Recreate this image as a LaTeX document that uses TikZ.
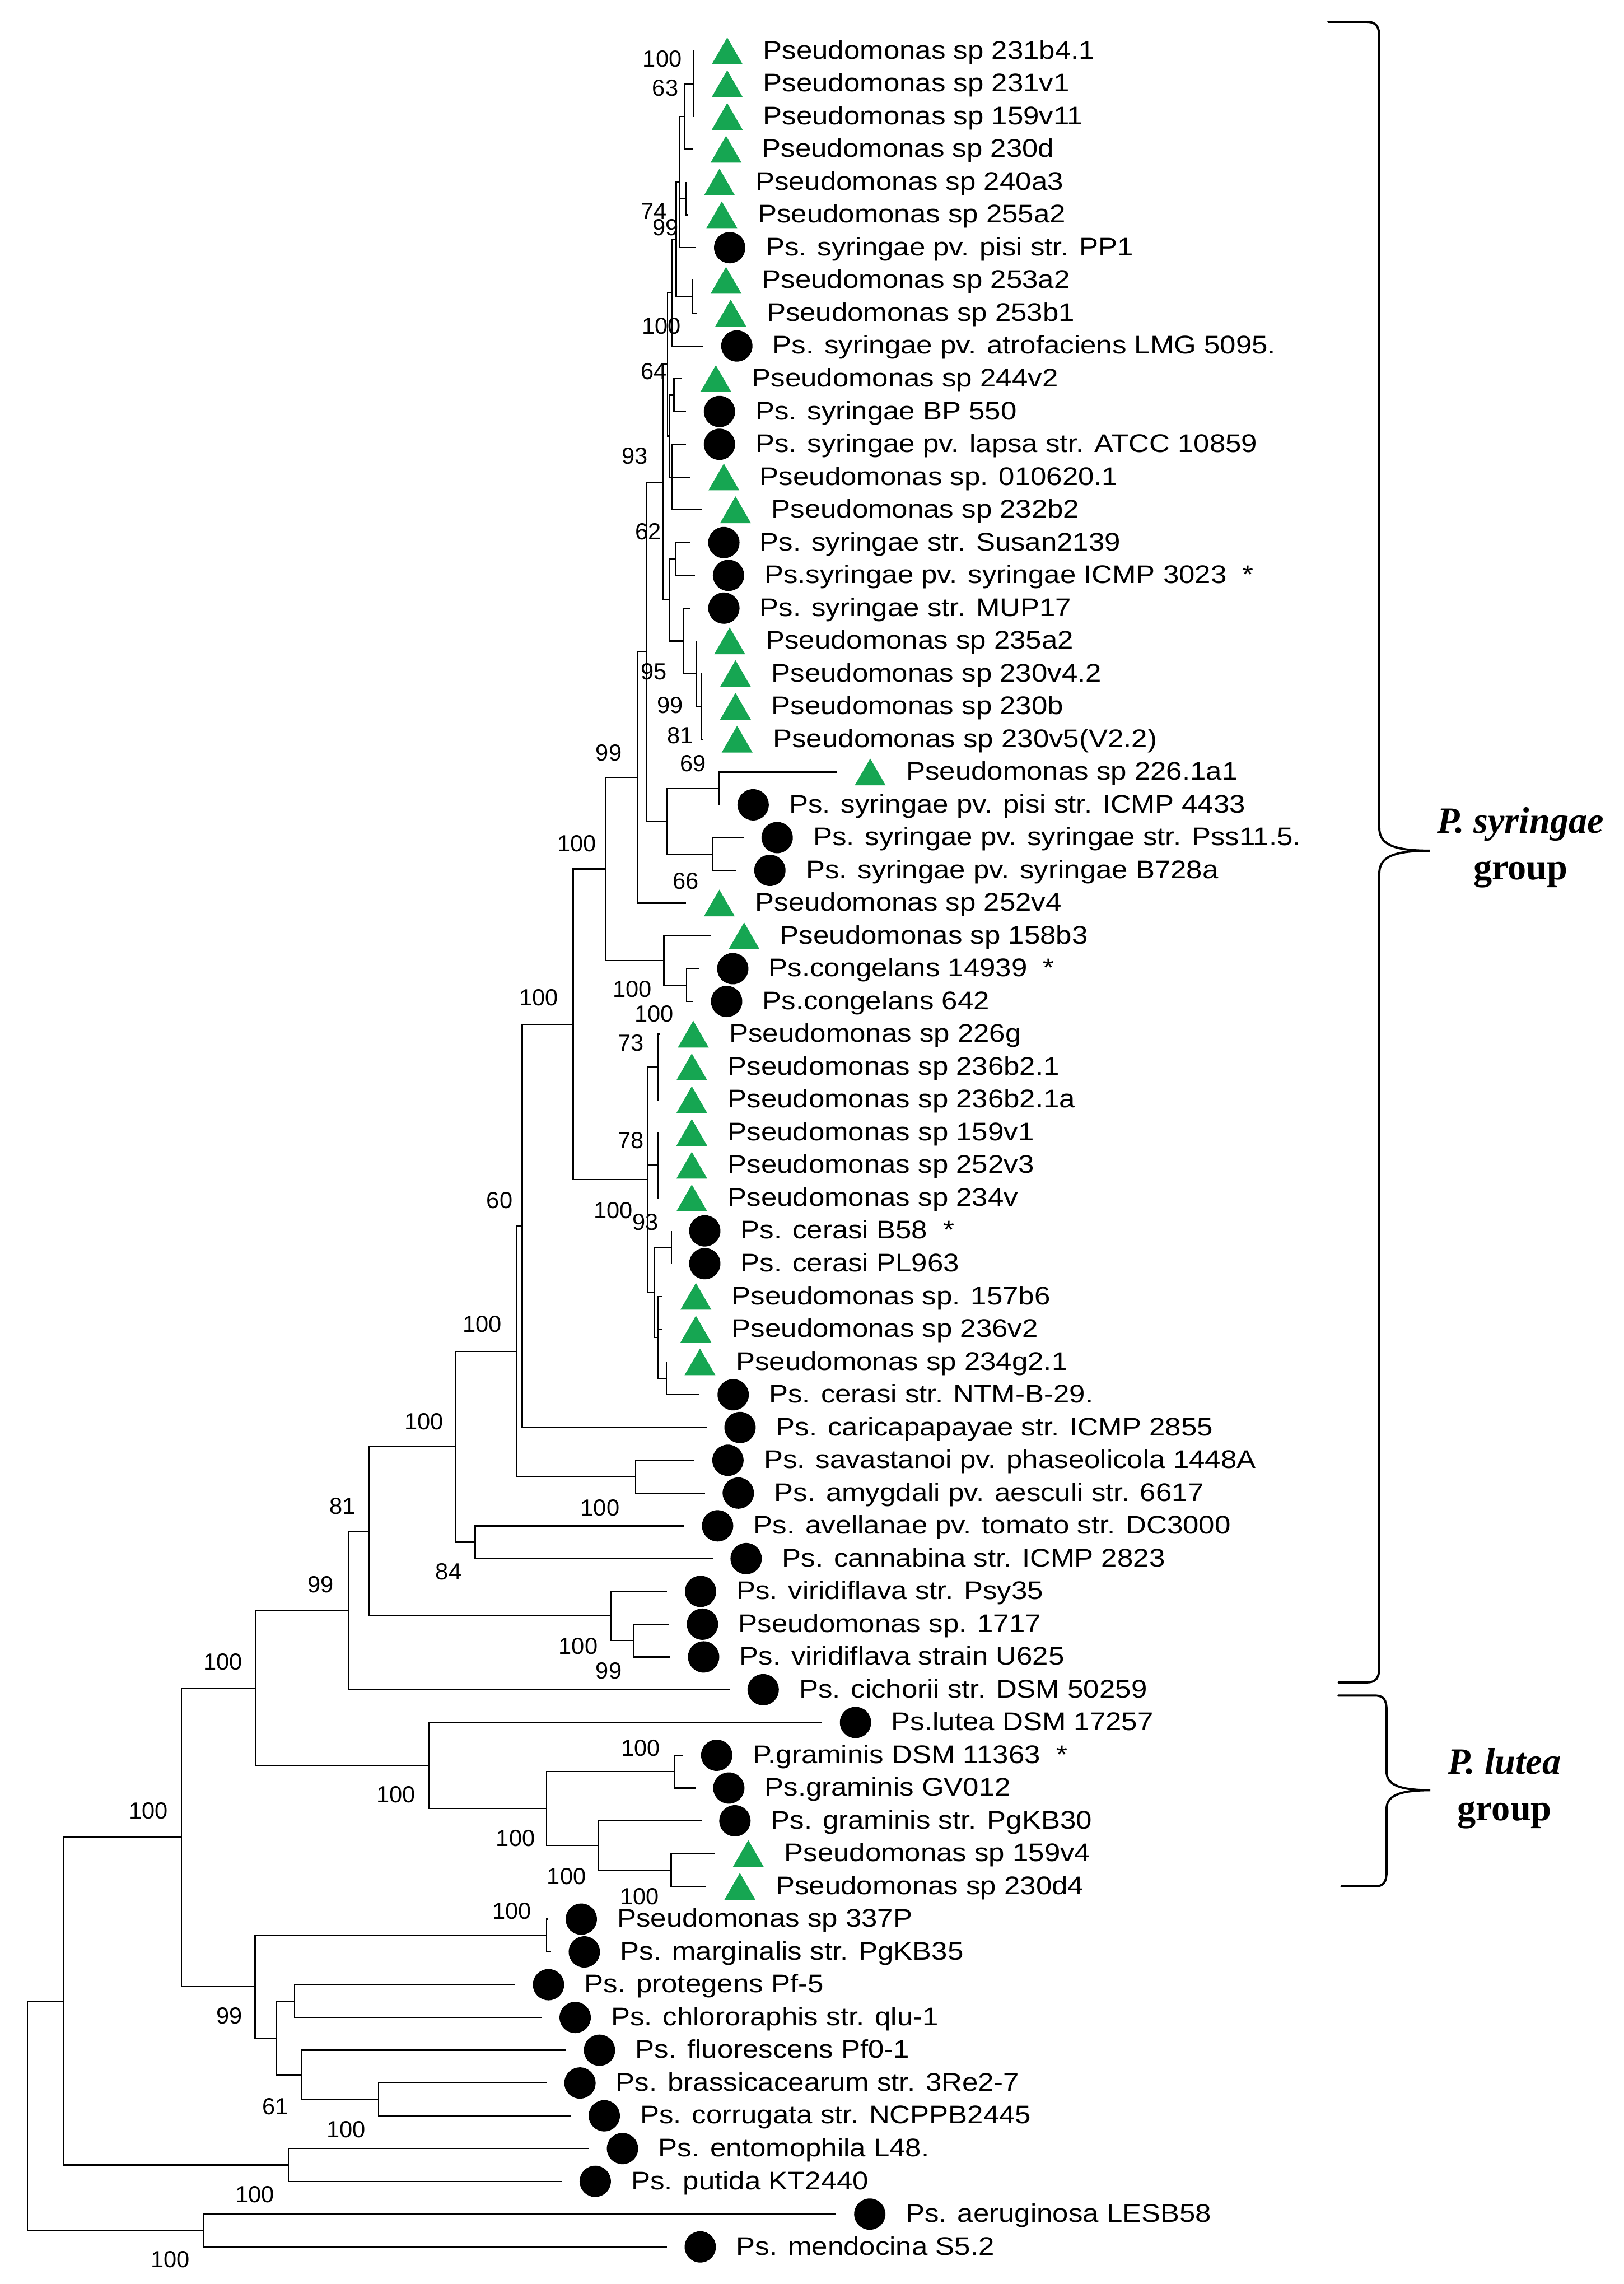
\documentclass[tikz,border=0pt]{standalone}
\usepackage{fontspec}
\usetikzlibrary{calc,shapes.geometric}
\newfontfamily\labfont[FakeStretch=1.12]{Liberation Sans}
\newfontfamily\numfont{Liberation Sans}
\newfontfamily\grpfont{Liberation Serif}
\definecolor{trigreen}{RGB}{22,166,82}
\tikzset{
 br/.style={line width=0.9pt, black},
 tri/.style={regular polygon, regular polygon sides=3, fill=trigreen, draw=none, minimum size=24.5pt, inner sep=0pt, yshift=-3pt},
 circ/.style={circle, fill=black, draw=none, minimum size=21.5pt, inner sep=0pt},
 lab/.style={anchor=base west, inner sep=0pt, font=\labfont\fontsize{17.5}{20}\selectfont},
 bs/.style={inner sep=0pt, font=\numfont\fontsize{16}{18}\selectfont},
 grp/.style={inner sep=0pt, anchor=base, font=\grpfont\bfseries\fontsize{25.5}{28}\selectfont},
 bracepath/.style={line width=1.5pt, line cap=round},
}
% leaf: name, row, marker x, marker style, text
\newcommand\lf[5]{%
 \pgfmathsetmacro\ly{-(35+22.5*(#2-1))}%
 \pgfmathsetmacro\lx{#3-23}%
 \pgfmathsetmacro\lt{#3+24.5}%
 \pgfmathsetmacro\lb{\ly-5.5}%
 \coordinate (#1) at (\lx pt,\ly pt);
 \node[#4] (#1m) at (#3pt,\ly pt) {};
 \node[lab] (#1t) at (\lt pt,\lb pt) {#5};
}
% internal node: name, x, first child, last child
\newcommand\inode[4]{\path let \p1=(#3), \p2=(#4) in coordinate (#1) at (#2pt,{(\y1+\y2)/2});}
\newcommand\kids[2]{\foreach \ch in {#2} {\draw[br] (#1) |- (\ch);}}
\newcommand\bsl[4]{\node[bs] (#1) at (#2pt,-#3pt) {#4};}
\begin{document}
\begin{tikzpicture}
\useasboundingbox (0pt,0pt) rectangle (1115pt,-1568pt);
% ---------- leaves ----------
\lf{l1}{1}{499.3}{tri}{Pseudomonas sp 231b4.1}
\lf{l2}{2}{499.3}{tri}{Pseudomonas sp 231v1}
\lf{l3}{3}{499.3}{tri}{Pseudomonas sp 159v11}
\lf{l4}{4}{498.5}{tri}{Pseudomonas sp 230d}
\lf{l5}{5}{494}{tri}{Pseudomonas sp 240a3}
\lf{l6}{6}{495.6}{tri}{Pseudomonas sp 255a2}
\lf{l7}{7}{501}{circ}{Ps. syringae pv. pisi str. PP1}
\lf{l8}{8}{498.5}{tri}{Pseudomonas sp 253a2}
\lf{l9}{9}{501.7}{tri}{Pseudomonas sp 253b1}
\lf{l10}{10}{505.9}{circ}{Ps. syringae pv. atrofaciens LMG 5095.}
\lf{l11}{11}{491.5}{tri}{Pseudomonas sp 244v2}
\lf{l12}{12}{494}{circ}{Ps. syringae BP 550}
\lf{l13}{13}{494}{circ}{Ps. syringae pv. lapsa str. ATCC 10859}
\lf{l14}{14}{497}{tri}{Pseudomonas sp. 010620.1}
\lf{l15}{15}{505}{tri}{Pseudomonas sp 232b2}
\lf{l16}{16}{497}{circ}{Ps. syringae str. Susan2139}
\lf{l17}{17}{500.2}{circ}{Ps.syringae pv. syringae ICMP 3023~~*}
\lf{l18}{18}{497}{circ}{Ps. syringae str. MUP17}
\lf{l19}{19}{501}{tri}{Pseudomonas sp 235a2}
\lf{l20}{20}{505}{tri}{Pseudomonas sp 230v4.2}
\lf{l21}{21}{505}{tri}{Pseudomonas sp 230b}
\lf{l22}{22}{506.1}{tri}{Pseudomonas sp 230v5(V2.2)}
\lf{l23}{23}{597.5}{tri}{Pseudomonas sp 226.1a1}
\lf{l24}{24}{517.1}{circ}{Ps. syringae pv. pisi str. ICMP 4433}
\lf{l25}{25}{533.6}{circ}{Ps. syringae pv. syringae str. Pss11.5.}
\lf{l26}{26}{528.6}{circ}{Ps. syringae pv. syringae B728a}
\lf{l27}{27}{493.9}{tri}{Pseudomonas sp 252v4}
\lf{l28}{28}{510.9}{tri}{Pseudomonas sp 158b3}
\lf{l29}{29}{503.1}{circ}{Ps.congelans 14939~~*}
\lf{l30}{30}{498.9}{circ}{Ps.congelans 642}
\lf{l31}{31}{476}{tri}{Pseudomonas sp 226g}
\lf{l32}{32}{475}{tri}{Pseudomonas sp 236b2.1}
\lf{l33}{33}{475}{tri}{Pseudomonas sp 236b2.1a}
\lf{l34}{34}{475}{tri}{Pseudomonas sp 159v1}
\lf{l35}{35}{475}{tri}{Pseudomonas sp 252v3}
\lf{l36}{36}{475}{tri}{Pseudomonas sp 234v}
\lf{l37}{37}{483.9}{circ}{Ps. cerasi B58~~*}
\lf{l38}{38}{483.9}{circ}{Ps. cerasi PL963}
\lf{l39}{39}{477.8}{tri}{Pseudomonas sp. 157b6}
\lf{l40}{40}{477.8}{tri}{Pseudomonas sp 236v2}
\lf{l41}{41}{480.6}{tri}{Pseudomonas sp 234g2.1}
\lf{l42}{42}{503.4}{circ}{Ps. cerasi str. NTM-B-29.}
\lf{l43}{43}{508.1}{circ}{Ps. caricapapayae str. ICMP 2855}
\lf{l44}{44}{499.8}{circ}{Ps. savastanoi pv. phaseolicola 1448A}
\lf{l45}{45}{506.9}{circ}{Ps. amygdali pv. aesculi str. 6617}
\lf{l46}{46}{492.7}{circ}{Ps. avellanae pv. tomato str. DC3000}
\lf{l47}{47}{512.3}{circ}{Ps. cannabina str. ICMP 2823}
\lf{l48}{48}{481}{circ}{Ps. viridiflava str. Psy35}
\lf{l49}{49}{482.3}{circ}{Pseudomonas sp. 1717}
\lf{l50}{50}{483.1}{circ}{Ps. viridiflava strain U625}
\lf{l51}{51}{524}{circ}{Ps. cichorii str. DSM 50259}
\lf{l52}{52}{587.4}{circ}{Ps.lutea DSM 17257}
\lf{l53}{53}{492.1}{circ}{P.graminis DSM 11363~~*}
\lf{l54}{54}{500.4}{circ}{Ps.graminis GV012}
\lf{l55}{55}{504.6}{circ}{Ps. graminis str. PgKB30}
\lf{l56}{56}{513.8}{tri}{Pseudomonas sp 159v4}
\lf{l57}{57}{508}{tri}{Pseudomonas sp 230d4}
\lf{l58}{58}{399.1}{circ}{Pseudomonas sp 337P}
\lf{l59}{59}{401.2}{circ}{Ps. marginalis str. PgKB35}
\lf{l60}{60}{376.6}{circ}{Ps. protegens Pf-5}
\lf{l61}{61}{394.9}{circ}{Ps. chlororaphis str. qlu-1}
\lf{l62}{62}{411.6}{circ}{Ps. fluorescens Pf0-1}
\lf{l63}{63}{398.2}{circ}{Ps. brassicacearum str. 3Re2-7}
\lf{l64}{64}{414.9}{circ}{Ps. corrugata str. NCPPB2445}
\lf{l65}{65}{427.4}{circ}{Ps. entomophila L48.}
\lf{l66}{66}{408.7}{circ}{Ps. putida KT2440}
\lf{l67}{67}{597.2}{circ}{Ps. aeruginosa LESB58}
\lf{l68}{68}{480.8}{circ}{Ps. mendocina S5.2}
% ---------- internal nodes ----------
\inode{Q1}{476}{l1}{l3}
\inode{Q2}{469.9}{Q1}{l4}
\inode{R}{471}{l5}{l6}
\inode{Q3}{466.9}{Q2}{l7}
\inode{DD}{475.4}{l8}{l9}
\inode{CC}{464.3}{Q3}{DD}
\inode{BB}{461.5}{CC}{l10}
\inode{P}{462.8}{l11}{l12}
\inode{EE}{461.5}{l13}{l15}
\inode{FF}{459.7}{P}{EE}
\inode{AA}{458.3}{BB}{FF}
\inode{SU}{463.6}{l16}{l17}
\inode{V}{481.9}{l20}{l22}
\inode{U}{478}{l19}{V}
\inode{Y}{469}{l18}{U}
\inode{X}{459.6}{SU}{Y}
\inode{T}{455.1}{AA}{X}
\inode{N}{493.9}{l23}{l24}
\inode{O}{489.3}{l25}{l26}
\inode{M}{457.7}{N}{O}
\inode{L}{444.2}{T}{M}
\inode{K}{437.6}{L}{l27}
\inode{GG}{471.5}{l29}{l30}
\inode{HH}{455.8}{l28}{GG}
\inode{J}{416.1}{K}{HH}
\inode{II}{451.7}{l31}{l33}
\inode{JJ}{451.7}{l34}{l36}
\inode{MM}{460.9}{l37}{l38}
\inode{OO}{457.6}{l41}{l42}
\inode{NN}{451.8}{l39}{OO}
\inode{LL}{449.4}{MM}{NN}
\inode{KK}{444.5}{II}{LL}
\inode{I}{393.5}{J}{KK}
\inode{A}{358.6}{I}{l43}
\inode{SAV}{436.4}{l44}{l45}
\inode{B}{354.4}{A}{SAV}
\inode{D}{326.2}{l46}{l47}
\inode{C}{312.7}{B}{D}
\inode{PV}{435.3}{l49}{l50}
\inode{VIR}{419.3}{l48}{PV}
\inode{E}{253.4}{C}{VIR}
\inode{F}{239.1}{E}{l51}
\inode{GR1}{463}{l53}{l54}
\inode{GR3}{460.8}{l56}{l57}
\inode{GR2}{410.8}{l55}{GR3}
\inode{GRP}{375.3}{GR1}{GR2}
\inode{LUT}{294.3}{l52}{GRP}
\inode{G}{175.4}{F}{LUT}
\inode{MG}{375.3}{l58}{l59}
\inode{PC}{202.3}{l60}{l61}
\inode{BC}{259.8}{l63}{l64}
\inode{FBC}{207.3}{l62}{BC}
\inode{PCF}{189.7}{PC}{FBC}
\inode{FL}{175.1}{MG}{PCF}
\inode{H}{124.6}{G}{FL}
\inode{EP}{198.1}{l65}{l66}
\inode{HH2}{43.8}{H}{EP}
\inode{AM}{139.7}{l67}{l68}
\inode{ROOT}{18.8}{HH2}{AM}
% ---------- branches ----------
\kids{Q1}{l1,l2,l3}
\kids{Q2}{Q1,l4}
\kids{R}{l5,l6}
\kids{Q3}{Q2,R,l7}
\kids{DD}{l8,l9}
\kids{CC}{Q3,DD}
\kids{BB}{CC,l10}
\kids{P}{l11,l12}
\kids{EE}{l13,l14,l15}
\kids{FF}{P,EE}
\kids{AA}{BB,FF}
\kids{SU}{l16,l17}
\kids{V}{l20,l21,l22}
\kids{U}{l19,V}
\kids{Y}{l18,U}
\kids{X}{SU,Y}
\kids{T}{AA,X}
\kids{N}{l23,l24}
\kids{O}{l25,l26}
\kids{M}{N,O}
\kids{L}{T,M}
\kids{K}{L,l27}
\kids{GG}{l29,l30}
\kids{HH}{l28,GG}
\kids{J}{K,HH}
\kids{II}{l31,l32,l33}
\kids{JJ}{l34,l35,l36}
\kids{MM}{l37,l38}
\kids{OO}{l41,l42}
\kids{NN}{l39,l40,OO}
\kids{LL}{MM,NN}
\kids{KK}{II,JJ,LL}
\kids{I}{J,KK}
\kids{A}{I,l43}
\kids{SAV}{l44,l45}
\kids{B}{A,SAV}
\kids{D}{l46,l47}
\kids{C}{B,D}
\kids{PV}{l49,l50}
\kids{VIR}{l48,PV}
\kids{E}{C,VIR}
\kids{F}{E,l51}
\kids{GR1}{l53,l54}
\kids{GR3}{l56,l57}
\kids{GR2}{l55,GR3}
\kids{GRP}{GR1,GR2}
\kids{LUT}{l52,GRP}
\kids{G}{F,LUT}
\kids{MG}{l58,l59}
\kids{PC}{l60,l61}
\kids{BC}{l63,l64}
\kids{FBC}{l62,BC}
\kids{PCF}{PC,FBC}
\kids{FL}{MG,PCF}
\kids{H}{G,FL}
\kids{EP}{l65,l66}
\kids{HH2}{H,EP}
\kids{AM}{l67,l68}
\kids{ROOT}{HH2,AM}
% ---------- bootstrap values ----------
\bsl{b1}{454.7}{40.5}{100}
\bsl{b2}{456.8}{60.5}{63}
\bsl{b3}{449}{145}{74}
\bsl{b4}{457}{156}{99}
\bsl{b5}{454}{224}{100}
\bsl{b6}{449}{255}{64}
\bsl{b7}{436}{313}{93}
\bsl{b8}{445}{365}{62}
\bsl{b9}{449}{461}{95}
\bsl{b10}{460}{484}{99}
\bsl{b11}{467}{505}{81}
\bsl{b12}{418}{517}{99}
\bsl{b13}{476}{524}{69}
\bsl{b14}{396}{579}{100}
\bsl{b15}{471}{605}{66}
\bsl{b16}{434}{679}{100}
\bsl{b17}{449}{696}{100}
\bsl{b18}{433}{716}{73}
\bsl{b19}{433}{783}{78}
\bsl{b20}{421}{831}{100}
\bsl{b21}{443}{839}{93}
\bsl{b22}{370}{685}{100}
\bsl{b23}{343}{824}{60}
\bsl{b24}{331}{909}{100}
\bsl{b25}{291}{976}{100}
\bsl{b26}{412}{1035}{100}
\bsl{b27}{308}{1079}{84}
\bsl{b28}{235}{1034}{81}
\bsl{b29}{220}{1088}{99}
\bsl{b30}{397}{1130}{100}
\bsl{b31}{418}{1147}{99}
\bsl{b32}{153}{1141}{100}
\bsl{b33}{102}{1243}{100}
\bsl{b34}{440}{1200}{100}
\bsl{b35}{272}{1232}{100}
\bsl{b36}{354}{1262}{100}
\bsl{b37}{389}{1288}{100}
\bsl{b38}{439}{1302}{100}
\bsl{b39}{351.5}{1312}{100}
\bsl{b40}{157.6}{1384}{99}
\bsl{b41}{189}{1446}{61}
\bsl{b42}{237.7}{1462}{100}
\bsl{b43}{175}{1506.6}{100}
\bsl{b44}{117}{1551}{100}
% ---------- braces and group labels ----------
\begin{scope}[x=1pt,y=-1pt]
\draw[bracepath] (912,15) -- (938,15) .. controls (945,15) and (947,18) .. (947,26)
  -- (947,568) .. controls (947,579) and (955,584) .. (982,584)
  .. controls (955,584) and (947,589) .. (947,600)
  -- (947,1144) .. controls (947,1152) and (945,1155) .. (938,1155) -- (919,1155);
\draw[bracepath] (919,1164) -- (944,1164) .. controls (950,1164) and (952,1167) .. (952,1174)
  -- (952,1216) .. controls (952,1224) and (958,1229) .. (982,1229)
  .. controls (958,1229) and (952,1234) .. (952,1242)
  -- (952,1285) .. controls (952,1292) and (950,1295) .. (944,1295) -- (921,1295);
\node[grp] (gs1) at (1044,572) {\itshape P. syringae};
\node[grp] (gs2) at (1044,604) {group};
\node[grp] (gl1) at (1033,1218) {\itshape P. lutea};
\node[grp] (gl2) at (1033,1250) {group};
\end{scope}
\end{tikzpicture}
\end{document}
